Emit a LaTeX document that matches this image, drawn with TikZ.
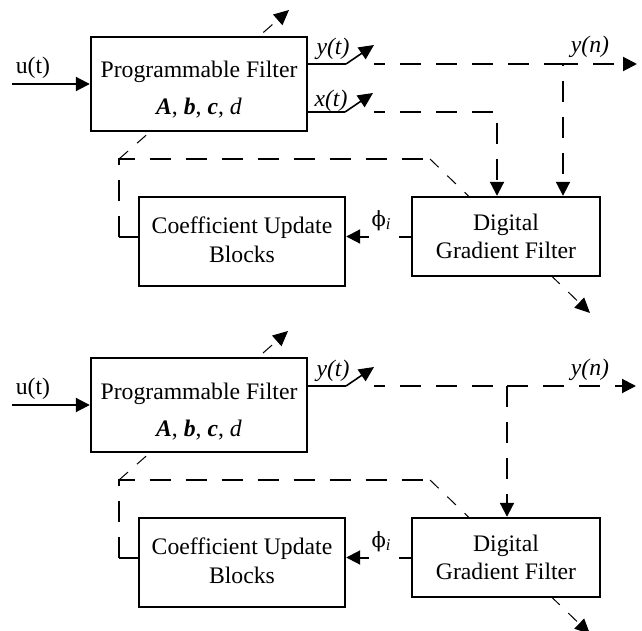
\documentclass[tikz,border=0pt]{standalone}
\usepackage{fontspec}
\setmainfont{Liberation Serif}
\newfontfamily\grkfont{DejaVu Serif}
\usetikzlibrary{arrows.meta}

\begin{document}
\begin{tikzpicture}[x=0.5pt,y=-0.5pt,
  font=\fontsize{11.85}{14}\selectfont,
  box/.style={draw,line width=1.2pt,fill=white,inner sep=0pt},
  txt/.style={inner sep=0pt,anchor=base},
  lbl/.style={inner sep=0pt},
  sig/.style={line width=1pt},
  dashsig/.style={line width=1pt,dash pattern=on 10.5pt off 7.5pt},
  tune/.style={line width=0.5pt,dash pattern=on 6pt off 6pt},
  switch/.style={line width=0.8pt},
  tip/.style={-{Triangle[length=7pt,width=7pt]}},
  smalltip/.style={-{Triangle[length=7.5pt,width=7pt]}},
  pfbox/.style={box,minimum width=108pt,minimum height=47pt},
  cubox/.style={box,minimum width=103pt,minimum height=44.5pt},
  dgbox/.style={box,minimum width=94pt,minimum height=39.5pt},
]
\useasboundingbox (0,0) rectangle (642,631);

% ---------------- upper loop: y(t) and x(t) fed to the gradient filter
\coordinate (fbA) at (119,159);
\coordinate (fbB) at (430,159);
\coordinate (pfTune) at (289,10);
\coordinate (dgTune) at (590,313);
% parameter-adjust arrows drawn through the blocks
\draw[tune,smalltip] (fbA) -- (pfTune);
\draw[tune,smalltip] (fbB) -- (dgTune);

\node[pfbox] (pf) at (199,84) {};
\node[txt] (pfname) at (199,78) {Programmable Filter};
\node[txt] (pfpar) at (199,115) {\textbf{\textit{A}}, \textbf{\textit{b}}, \textbf{\textit{c}}, \textit{d}};
\node[cubox] (cub) at (242,241.5) {};
\node[txt] (cubA) at (242,233.5) {Coefficient Update};
\node[txt] (cubB) at (242,262.5) {Blocks};
\node[dgbox] (dgf) at (506,236.5) {};
\node[txt] (dgfA) at (506,230) {Digital};
\node[txt] (dgfB) at (506,258) {Gradient Filter};

% input
\coordinate (uin) at (12,84);
\draw[sig,tip] (uin) -- (pf.west);
\node[lbl] (ulab) at (33,67.5) {u(t)};

% y(t) output with sampling switch
\coordinate (ysw) at (346,64);
\coordinate (ytip) at (374,45);
\coordinate (yd) at (374,64);
\coordinate (yc) at (563,64);
\coordinate (yout) at (637,64);
\draw[sig] (pf.east |- ysw) -- (ysw);
\draw[switch,smalltip] (ysw) -- (ytip);
\draw[dashsig,dash phase=5pt,tip] (yd) -- (yc) -- (yc |- dgf.north);
\draw[dashsig,dash phase=3pt,tip] (yc) -- (yout);
\node[lbl] (ylab) at (333,48.5) {\textit{y(t)}};
\node[lbl] (ynlab) at (590,46.5) {\textit{y(n)}};

% x(t) output with sampling switch
\coordinate (xsw) at (345,112);
\coordinate (xtip) at (373,93);
\coordinate (xd) at (374,112);
\coordinate (xc) at (497,112);
\draw[sig] (pf.east |- xsw) -- (xsw);
\draw[switch,smalltip] (xsw) -- (xtip);
\draw[dashsig,dash phase=5pt,tip] (xd) -- (xc) -- (xc |- dgf.north);
\node[lbl] (xlab) at (331,100.5) {\textit{x(t)}};

% gradient to coefficient update
\draw[sig,tip,dash pattern=on 6pt off 15pt on 200pt] (dgf.west) -- (dgf.west -| cub.east);
\node[lbl] (philab) at (381.5,220.5) {{\grkfont\fontsize{10.5}{12}\selectfont ϕ}\textsubscript{\textit{i}}};

% coefficient feedback
\draw[sig] (cub.west |- dgf.west) -- (fbA |- dgf.west);
\draw[dashsig] (fbA |- dgf.west) -- (fbA) -- (fbB);

% ---------------- lower loop: only y(t) fed to the gradient filter
\coordinate (fbC) at (119,480);
\coordinate (fbD) at (430,480);
\coordinate (pfTuneB) at (288,331);
\coordinate (dgTuneB) at (590,634);
\draw[tune,smalltip] (fbC) -- (pfTuneB);
\draw[tune,smalltip] (fbD) -- (dgTuneB);

\node[pfbox] (pfB) at (199,405) {};
\node[txt] (pfnameB) at (199,399) {Programmable Filter};
\node[txt] (pfparB) at (199,436) {\textbf{\textit{A}}, \textbf{\textit{b}}, \textbf{\textit{c}}, \textit{d}};
\node[cubox] (cubL) at (242,562.5) {};
\node[txt] (cubLA) at (242,554.5) {Coefficient Update};
\node[txt] (cubLB) at (242,583.5) {Blocks};
\node[dgbox] (dgfL) at (506,557.5) {};
\node[txt] (dgfLA) at (506,551) {Digital};
\node[txt] (dgfLB) at (506,579) {Gradient Filter};

\coordinate (uinB) at (12,405);
\draw[sig,tip] (uinB) -- (pfB.west);
\node[lbl] (ulabB) at (33,388.5) {u(t)};

\coordinate (yswB) at (346,386);
\coordinate (ytipB) at (374,367);
\coordinate (ydB) at (374,386);
\coordinate (ycB) at (507,386);
\coordinate (youtB) at (636,386);
\draw[sig] (pfB.east |- yswB) -- (yswB);
\draw[switch,smalltip] (yswB) -- (ytipB);
\draw[dashsig,dash phase=5pt] (ydB) -- (ycB);
\draw[dashsig,tip] (ycB) -- (ycB |- dgfL.north);
\draw[dashsig,tip] (ycB) -- (youtB);
\node[lbl] (ylabB) at (333,370.5) {\textit{y(t)}};
\node[lbl] (ynlabB) at (590,369.5) {\textit{y(n)}};

\draw[sig,tip,dash pattern=on 6pt off 15pt on 200pt] (dgfL.west) -- (dgfL.west -| cubL.east);
\node[lbl] (philabB) at (381.5,541.5) {{\grkfont\fontsize{10.5}{12}\selectfont ϕ}\textsubscript{\textit{i}}};

\draw[sig] (cubL.west |- dgfL.west) -- (fbC |- dgfL.west);
\draw[dashsig] (fbC |- dgfL.west) -- (fbC) -- (fbD);
\end{tikzpicture}
\end{document}
